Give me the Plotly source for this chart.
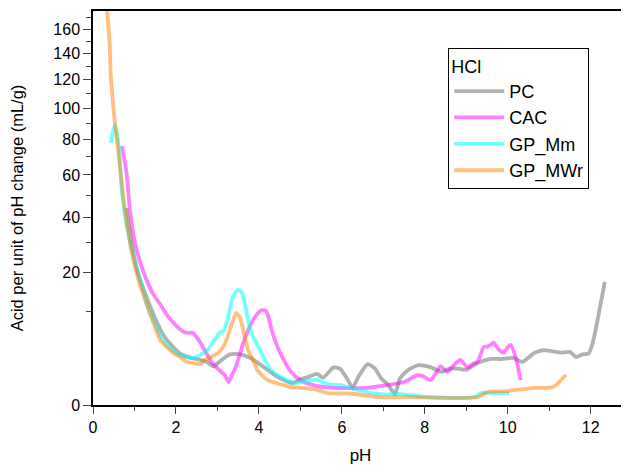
import numpy as np
import plotly.graph_objects as go

# ---- data (pH, acid per unit of pH change in mL/g) ----
pc_ph = [0.8, 0.95, 1.1, 1.3, 1.5, 1.7, 1.9, 2.1, 2.3, 2.5, 2.75, 2.9, 3.1, 3.3, 3.55, 3.8, 4.05, 4.25, 4.45, 4.8,
         5.0, 5.2, 5.4, 5.55, 5.8, 5.95, 6.1, 6.26, 6.4, 6.62, 6.8, 6.95, 7.1, 7.28, 7.4, 7.6, 7.85, 8.15, 8.4, 8.6,
         8.8, 9.0, 9.27, 9.6, 9.85, 10.15, 10.35, 10.65, 10.85, 11.05, 11.3, 11.5, 11.65, 11.8, 11.95, 12.05, 12.34]
pc_v = [44, 28, 19, 13, 8.5, 5.5, 4.0, 3.0, 2.6, 2.4, 2.1, 1.7, 2.3, 2.9, 2.9, 2.5, 1.8, 1.3, 0.9, 0.55,
        0.75, 0.9, 1.1, 0.85, 1.6, 1.5, 0.9, 0.35, 0.9, 1.9, 1.5, 0.8, 0.5, 0.14, 0.8, 1.4, 1.8, 1.6, 1.25, 1.5,
        1.5, 1.4, 2.0, 2.4, 2.4, 2.5, 2.1, 3.1, 3.4, 3.3, 3.1, 3.2, 2.6, 2.9, 3.0, 4.4, 17.2]

cac_ph = [0.70, 0.76, 0.82, 0.89, 1.01, 1.14, 1.3, 1.45, 1.62, 1.8, 1.95, 2.1, 2.2, 2.3, 2.4, 2.5, 2.6, 2.75, 2.9, 3.07,
          3.18, 3.27, 3.33, 3.45, 3.62, 3.8, 3.95, 4.08, 4.18, 4.3, 4.45, 4.6, 4.76, 5.0, 5.3, 5.8, 6.2, 6.6, 7.0, 7.4,
          7.6, 7.8, 7.95, 8.14, 8.3, 8.38, 8.55, 8.7, 8.86, 9.03, 9.15, 9.27, 9.42, 9.52, 9.59, 9.66, 9.78, 9.9, 10.0,
          10.07, 10.19, 10.31]
cac_v = [76, 68, 59, 43, 30, 23, 17.5, 14, 11.5, 9, 7.6, 6.5, 6.0, 5.9, 5.9, 5.2, 4.3, 2.9, 1.9, 1.3,
         1.0, 0.6, 0.9, 1.7, 4.3, 7.3, 9.3, 10.2, 10.0, 6.6, 3.8, 2.3, 1.3, 0.7, 0.45, 0.33, 0.32, 0.33, 0.42, 0.55,
         0.7, 1.0, 0.95, 0.7, 1.3, 1.7, 1.25, 1.8, 2.3, 1.6, 1.9, 2.1, 3.8, 3.9, 4.1, 4.4, 3.5, 3.1, 3.8,
         4.1, 2.6, 0.7]

mm_ph = [0.43, 0.48, 0.53, 0.58, 0.63, 0.70, 0.82, 0.94, 1.06, 1.18, 1.3, 1.45, 1.62, 1.8, 2.03, 2.2, 2.42, 2.6, 2.75,
         2.9, 3.07, 3.15, 3.25, 3.38, 3.5, 3.58, 3.7, 3.79, 3.9, 4.03, 4.15, 4.27, 4.45, 4.59, 4.83, 5.0, 5.2, 5.4,
         5.65, 5.97, 6.2, 6.6, 7.0, 7.4, 8.06, 9.2, 9.35, 9.6, 10.03]
mm_v = [78, 85, 89, 83, 74, 51, 36, 27, 21, 16, 11.5, 8.3, 5.5, 4.0, 3.0, 2.7, 2.5, 2.9, 3.4,
        4.5, 6.0, 6.2, 8.5, 13.5, 15.0, 14.5, 10, 6.4, 4.8, 3.4, 2.2, 1.5, 1.0, 0.8, 0.55, 0.6, 0.68, 0.71,
        0.5, 0.45, 0.33, 0.19, 0.13, 0.14, 0.07, 0.07, 0.16, 0.16, 0.16]

mwr_ph = [0.28, 0.34, 0.40, 0.43, 0.48, 0.53, 0.6, 0.68, 0.77, 0.87, 0.97, 1.06, 1.14, 1.21, 1.35, 1.5, 1.62, 1.78,
          1.93, 2.1, 2.27, 2.42, 2.58, 2.7, 2.83, 3.0, 3.14, 3.24, 3.35, 3.45, 3.55, 3.65, 3.75, 3.87, 3.96, 4.2, 4.5,
          4.76, 5.0, 5.4, 5.65, 6.2, 6.86, 7.66, 9.27, 9.5, 10.0, 10.63, 11.1, 11.4]
mwr_v = [200, 176, 149, 122, 104, 90, 75, 58, 43, 32, 24, 19.5, 16, 14, 10, 6.8, 4.8, 3.8,
         3.1, 2.6, 2.1, 2.0, 1.9, 2.3, 2.6, 3.0, 3.8, 5.2, 7.5, 9.6, 8.5, 5.5, 3.3, 2.2, 1.4, 0.71, 0.5,
         0.37, 0.33, 0.26, 0.16, 0.15, 0.07, 0.07, 0.07, 0.19, 0.22, 0.33, 0.37, 1.02]

y_major = [0, 20, 40, 60, 80, 100, 120, 140, 160]
y_minor = [10, 30, 50, 70, 90, 110, 130, 150, 170]
y_max = 176

series = [
    ("PC", pc_ph, pc_v, "rgba(100,100,100,0.5)"),
    ("CAC", cac_ph, cac_v, "rgba(255,0,255,0.5)"),
    ("GP_Mm", mm_ph, mm_v, "rgba(0,255,255,0.55)"),
    ("GP_MWr", mwr_ph, mwr_v, "rgba(255,128,0,0.5)"),
]

fig = go.Figure()
for name, xs, ys, col in series:
    fig.add_trace(go.Scatter(x=xs, y=np.sqrt(np.array(ys, dtype=float)), mode="lines", name=name,
                             line=dict(color=col, width=3.8, shape="spline", smoothing=0.6)))

font = "Liberation Sans, Arial, sans-serif"
# page body has an 8px margin, so the figure is sized/offset to place the plot area like the reference
fig.update_layout(
    width=621, height=463,
    margin=dict(l=85, r=1, t=3, b=66),
    paper_bgcolor="white", plot_bgcolor="white",
    font=dict(family=font, size=16, color="black"),
    showlegend=True,
    legend=dict(title=dict(text="HCl", font=dict(size=18)), font=dict(size=18),
                x=0.664, y=0.905, xanchor="left", yanchor="top",
                bordercolor="black", borderwidth=1, bgcolor="white",
                tracegroupgap=0, itemwidth=50),
)
fig.update_xaxes(range=[0, 12.9], tickvals=[0, 2, 4, 6, 8, 10, 12], ticks="outside", ticklen=7, tickwidth=1.2,
                 minor=dict(tickvals=[1, 3, 5, 7, 9, 11], ticks="outside", ticklen=4, tickwidth=1.2),
                 showline=True, linecolor="black", linewidth=1.5, mirror=True, showgrid=False, zeroline=False,
                 title=dict(text="pH", font=dict(size=17), standoff=14), automargin=False,
                 tickfont=dict(size=16))
fig.update_yaxes(range=[0, np.sqrt(y_max)], tickvals=np.sqrt(y_major).tolist(), ticktext=[str(v) for v in y_major],
                 ticks="outside", ticklen=8, tickwidth=1.2,
                 minor=dict(tickvals=np.sqrt(y_minor).tolist(), ticks="outside", ticklen=5, tickwidth=1.2),
                 showline=True, linecolor="black", linewidth=1.5, mirror=True, showgrid=False, zeroline=False,
                 title=dict(text="Acid per unit of pH change (mL/g)", font=dict(size=16.5), standoff=26),
                 automargin=False, tickfont=dict(size=16))

fig.write_html("out.html")
